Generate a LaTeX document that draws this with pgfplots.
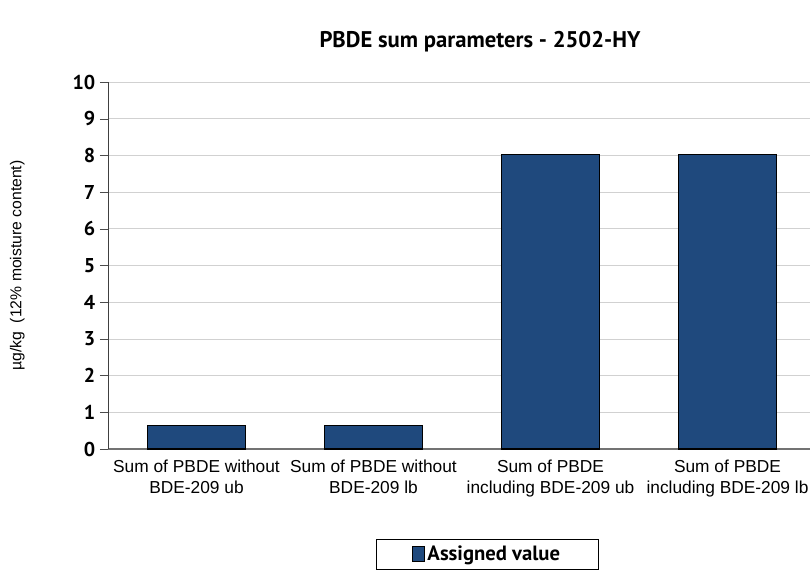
\documentclass[border=0pt]{standalone}
\usepackage{fontspec}
\usepackage{pgfplots}
\pgfplotsset{compat=1.18}
\setmainfont{Liberation Sans}
\newfontfamily\dinfont{PT Sans}
\definecolor{barblue}{RGB}{31,73,125}
\begin{document}
\begin{tikzpicture}[x=1pt,y=1pt]
\path[use as bounding box] (-81,-90) rectangle (526.5,336.75);
\clip (-81,-90) rectangle (526.5,336.75);
\node[font=\dinfont\bfseries\fontsize{17}{20}\selectfont] at (279,305.25) {PBDE sum parameters - 2502-HY};
\begin{axis}[
  at={(0,0)}, anchor=south west,
  scale only axis, width=531pt, height=275.25pt,
  ymin=0, ymax=10, ytick={0,1,...,10},
  xmin=-0.5, xmax=3.5,
  xtick={0,1,2,3},
  xticklabels={{Sum of PBDE without\\BDE-209 ub},{Sum of PBDE without\\BDE-209 lb},{Sum of PBDE\\including BDE-209 ub},{Sum of PBDE\\including BDE-209 lb}},
  x tick label style={align=center, font=\fontsize{13}{15.75}\selectfont, inner sep=2pt},
  major x tick style={draw=none},
  extra x ticks={-0.5,0.5,1.5,2.5},
  extra x tick labels={},
  extra x tick style={major tick length=5pt, tick align=outside, tick style={draw=black!60}, grid=none},
  y tick label style={font=\dinfont\bfseries\fontsize{15}{17}\selectfont},
  /pgf/number format/assume math mode=true,
  tick align=outside, major tick length=6pt,
  ytick style={draw=black!70},
  ymajorgrids, grid style={draw=black!18, line width=0.6pt},
  axis x line*=bottom, axis y line*=left,
  x axis line style={draw=black!55, line width=1.2pt},
  y axis line style={draw=black!75, line width=0.6pt},
  ylabel={\textmu g/kg\ \ (12\% moisture content)},
  ylabel style={font=\fontsize{11.8}{13}\selectfont, at={(axis description cs:0,0.5)}, anchor=south, yshift=59pt},
  legend style={at={(0.536,-0.246)}, anchor=north, draw=black, line width=0.5pt,
    font=\dinfont\bfseries\fontsize{15.5}{18}\selectfont,
    inner xsep=27pt, inner ysep=3pt, legend cell align=left},
  legend image code/.code={\draw[#1, draw=black, line width=0.4pt] (0pt,-5pt) rectangle (9pt,6pt);},
]
\addplot[ybar, bar width=0.55, fill=barblue, draw=black, line width=0.8pt] coordinates {(0,0.63) (1,0.63) (2,8.02) (3,8.02)};
\addlegendentry{Assigned value}
\end{axis}
\end{tikzpicture}
\end{document}
